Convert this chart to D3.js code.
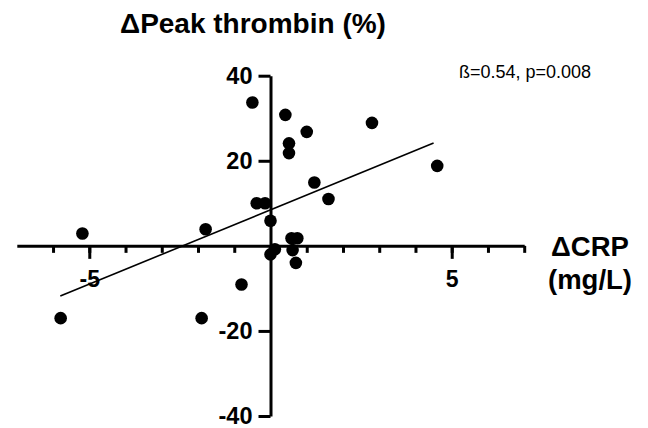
<!DOCTYPE html>
<html>
<head>
<meta charset="utf-8">
<script src="https://cdn.jsdelivr.net/npm/d3@7"></script>
<style>
  body { margin: 0; background: #fff; }
  svg { display: block; font-family: "Liberation Sans", Arial, sans-serif; }
  .axis path, .axis line { stroke: #000; stroke-width: 3; }
  .axis text { fill: #000; font-weight: bold; }
</style>
</head>
<body>
<div id="chart"></div>
<script>
// data
const crpDelta = [-5.79, -5.19, -1.9, -1.79, -0.8, -0.5, -0.38, -0.15, 0.0, 0.0, 0.12,
  0.41, 0.51, 0.51, 0.58, 0.74, 0.61, 0.70, 1.0, 1.21, 1.6, 2.8, 4.6];
const thrombinDelta = [-17.0, 2.9, -17.0, 3.9, -9.1, 33.7, 10.0, 10.0, 5.9, -2.0, -0.8,
  30.8, 24.1, 21.8, 1.8, 1.8, -1.0, -4.0, 26.8, 14.9, 11.0, 28.9, 18.8];

// regression line end points
const fitX = [-5.8, 4.5];
const fitY = [-11.8, 24.2];

const xMajorTicks = [-5, 5];
const xMinorTicks = [-6, -5, -4, -3, -2, -1, 1, 2, 3, 4, 5, 6, 7];
const yTicks = [-40, -20, 20, 40];

const width = 648;
const height = 428;

const svg = d3.select("#chart")
  .append("svg")
  .attr("width", width)
  .attr("height", height);

const x = d3.scaleLinear().domain([-7, 7]).range([16.8, 524.2]);
const y = d3.scaleLinear().domain([-40, 40]).range([416, 75.7]);

// x axis through y = 0
svg.append("g")
  .attr("class", "axis")
  .attr("transform", `translate(0,${y(0)})`)
  .call(d3.axisBottom(x).tickValues(xMinorTicks).tickSize(7).tickSizeOuter(0).tickFormat(""));

svg.append("g")
  .attr("class", "axis")
  .attr("transform", `translate(0,${y(0)})`)
  .call(d3.axisBottom(x).tickValues(xMajorTicks).tickSize(13).tickSizeOuter(0)
    .tickPadding(12).tickFormat((d) => String(d)))
  .call((g) => g.select(".domain").remove())
  .selectAll("text")
  .style("font-size", "23px");

// y axis through x = 0
svg.append("g")
  .attr("class", "axis")
  .attr("transform", `translate(${x(0)},0)`)
  .call(d3.axisLeft(y).tickValues(yTicks).tickSize(12).tickSizeOuter(0)
    .tickPadding(6).tickFormat((d) => String(d)))
  .selectAll("text")
  .style("font-size", "23.5px");

// fit line
svg.append("line")
  .attr("x1", x(fitX[0]))
  .attr("y1", y(fitY[0]))
  .attr("x2", x(fitX[1]))
  .attr("y2", y(fitY[1]))
  .attr("stroke", "#000")
  .attr("stroke-width", 1.6);

// points
svg.selectAll("circle.pt")
  .data(crpDelta.map((d, i) => [d, thrombinDelta[i]]))
  .join("circle")
  .attr("class", "pt")
  .attr("cx", (d) => x(d[0]))
  .attr("cy", (d) => y(d[1]))
  .attr("r", 6.3)
  .attr("fill", "#000");

// titles
svg.append("text")
  .attr("x", 120)
  .attr("y", 33)
  .style("font-size", "28px")
  .style("font-weight", "bold")
  .text("ΔPeak thrombin (%)");

svg.append("text")
  .attr("x", 590)
  .attr("y", 256)
  .attr("text-anchor", "middle")
  .style("font-size", "27.5px")
  .style("font-weight", "bold")
  .text("ΔCRP");

svg.append("text")
  .attr("x", 590)
  .attr("y", 289)
  .attr("text-anchor", "middle")
  .style("font-size", "27.5px")
  .style("font-weight", "bold")
  .text("(mg/L)");

svg.append("text")
  .attr("x", 459)
  .attr("y", 78)
  .style("font-size", "18px")
  .text("ß=0.54, p=0.008");
</script>
</body>
</html>
